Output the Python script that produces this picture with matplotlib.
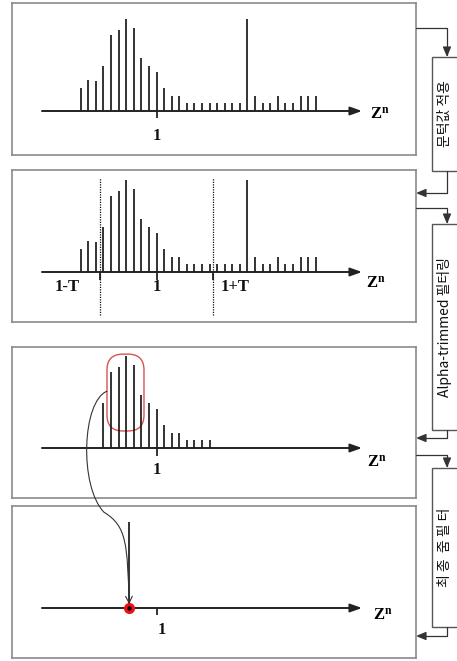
import matplotlib
matplotlib.use("Agg")
import matplotlib.pyplot as plt
from matplotlib.patches import Rectangle, FancyBboxPatch, FancyArrowPatch
from matplotlib.path import Path

plt.rcParams['font.family'] = ['Noto Sans CJK KR', 'DejaVu Sans']
plt.rcParams['mathtext.fontset'] = 'custom'
plt.rcParams['mathtext.rm'] = 'Liberation Serif'
plt.rcParams['mathtext.bf'] = 'Liberation Serif:bold'

# stem heights of the histogram (index 10 is Z^n = 1)
heights = [3, 4.1, 4, 6, 10, 10.7, 12.1, 11, 7, 6, 5.2, 3, 2, 2, 1, 1,
           1, 1, 1, 1, 1, 1, 12.1, 2, 1, 1, 2, 1, 1, 2, 2, 2]
positions = list(range(len(heights)))
center = 10
T = 7.5
trim_group = [4, 5, 6, 7]
final_pos = 6.4
final_height = 11.4

step_labels = ["문턱값 적용", "Alpha-trimmed 필터링", "최 종  줌 필 터"]

W, H = 457, 661
fig = plt.figure(figsize=(W / 100, H / 100), dpi=100)


def fx(x):
    return x / W


def fy(y):
    return 1 - y / H


def panel(top, bottom, axis_y):
    ax = fig.add_axes([fx(12), fy(bottom), fx(416) - fx(12), fy(top) - fy(bottom)])
    unit = 7.57
    ax.set_xlim((12 - 80.67) / 7.583, (416 - 80.67) / 7.583)
    ax.set_ylim(-(bottom - axis_y) / unit, (axis_y - top) / unit)
    ax.set_xticks([])
    ax.set_yticks([])
    for s in ax.spines.values():
        s.set_color('#8a8a8a')
        s.set_linewidth(1.2)
    ax.annotate('', xy=(37.1, 0), xytext=(-5.1, 0),
                arrowprops=dict(arrowstyle='-|>,head_length=0.7,head_width=0.25',
                                lw=1.4, color='#222222', mutation_scale=10,
                                shrinkA=0, shrinkB=0))
    return ax


def stems(ax, xs, hs):
    ax.vlines(xs, 0, hs, color='#111111', lw=1.2)


serif = dict(family='Liberation Serif', fontweight='bold', fontsize=12, color='#111111')
zn = r'$\mathbf{Z^{n}}$'

# panel 1
ax1 = panel(3, 155, 111)
stems(ax1, positions, heights)
ax1.vlines(center, -0.95, 0, color='#111111', lw=1.2)
ax1.text(center, -3.3, "1", ha='center', va='center', **serif)
ax1.text(38.2, -0.4, zn, ha='left', va='center', fontsize=12)

# panel 2
ax2 = panel(170, 322, 272)
stems(ax2, positions, heights)
for xv in [center - T, center, center + T]:
    ax2.vlines(xv, -1.0, 0, color='#111111', lw=1.2)
for xv in [center - T, center + T]:
    ax2.vlines(xv, -5.7, 12.4, color='#111111', lw=0.9, linestyles=(0, (1, 1)))
ax2.text(-1.8, -2.0, "1-T", ha='center', va='center', **serif)
ax2.text(center, -2.0, "1", ha='center', va='center', **serif)
ax2.text(20.35, -2.0, "1+T", ha='center', va='center', **serif)
ax2.text(37.6, -1.45, zn, ha='left', va='center', fontsize=12)

# panel 3
ax3 = panel(347, 498, 448)
inside = [p for p in positions if center - T < p < center + T]
stems(ax3, inside, [heights[p] for p in inside])
ax3.vlines(center, -1.0, 0, color='#111111', lw=1.2)
ax3.text(center, -2.9, "1", ha='center', va='center', **serif)
ax3.text(37.7, -1.85, zn, ha='left', va='center', fontsize=12)
r = 2.1
bx0, bx1 = min(trim_group) - 0.53, max(trim_group) + 1.35
by0, by1 = 2.25, 12.4
ax3.add_patch(FancyBboxPatch((bx0 + r, by0 + r), bx1 - bx0 - 2 * r, by1 - by0 - 2 * r,
                             boxstyle=f"round,pad={r}", fc='none', ec='#d9534f', lw=1.0))

# panel 4
ax4 = panel(506, 658, 608)
stems(ax4, [final_pos], [final_height])
ax4.vlines(center, -0.9, 0, color='#111111', lw=1.2)
ax4.text(center + 0.7, -2.9, "1", ha='center', va='center', **serif)
ax4.text(38.6, -0.9, zn, ha='left', va='center', fontsize=12)
ax4.plot([final_pos], [0], 'o', ms=7, mfc='#ee1111', mec='#ee1111', zorder=5)
ax4.plot([final_pos], [0], 'o', ms=2.2, mfc='black', mec='black', zorder=6)

# curved connector from trimmed group to final point
fig.canvas.draw()
sx, sy = ax3.transData.transform((bx0, 7.5))
ex, ey = ax4.transData.transform((final_pos, 0.5))
verts = [(sx, sy),
         (sx - 25, sy - 10), (sx - 28, sy - 95), (sx - 3, sy - 121),
         (sx + 20, sy - 135), (ex - 2, ey + 60), (ex, ey)]
codes = [Path.MOVETO, Path.CURVE4, Path.CURVE4, Path.CURVE4,
         Path.CURVE4, Path.CURVE4, Path.CURVE4]
fig.add_artist(FancyArrowPatch(path=Path(verts, codes), arrowstyle='->,head_length=0.6,head_width=0.3',
                               mutation_scale=8, lw=0.8, color='#333333',
                               transform=None))

# side step boxes
side = [(57, 171, step_labels[0]), (224, 430, step_labels[1]), (468, 627, step_labels[2])]
for top, bottom, label in side:
    fig.add_artist(Rectangle((fx(432), fy(bottom)), fx(480) - fx(432), fy(top) - fy(bottom),
                             transform=fig.transFigure, fc='white', ec='#555555', lw=1.0))
    fig.text(fx(444.5), fy((top + bottom) / 2), label, rotation=90, ha='center', va='center',
             fontsize=10, color='#111111')

# flow arrows between panels and step boxes
flows = [[(416, 28), (447, 28), (447, 57)],
         [(447, 171), (447, 193), (416, 193)],
         [(416, 208), (447, 208), (447, 224)],
         [(447, 430), (447, 438), (416, 438)],
         [(416, 455), (447, 455), (447, 468)],
         [(447, 627), (447, 636), (416, 636)]]
for pts in flows:
    verts = [(fx(x), fy(y)) for x, y in pts]
    path = Path(verts, [Path.MOVETO] + [Path.LINETO] * (len(verts) - 1))
    fig.add_artist(FancyArrowPatch(path=path, arrowstyle='-|>,head_length=0.6,head_width=0.25',
                                   mutation_scale=10, lw=0.9, color='#333333',
                                   shrinkA=0, shrinkB=0, transform=fig.transFigure))

fig.savefig("out.png", dpi=100)
